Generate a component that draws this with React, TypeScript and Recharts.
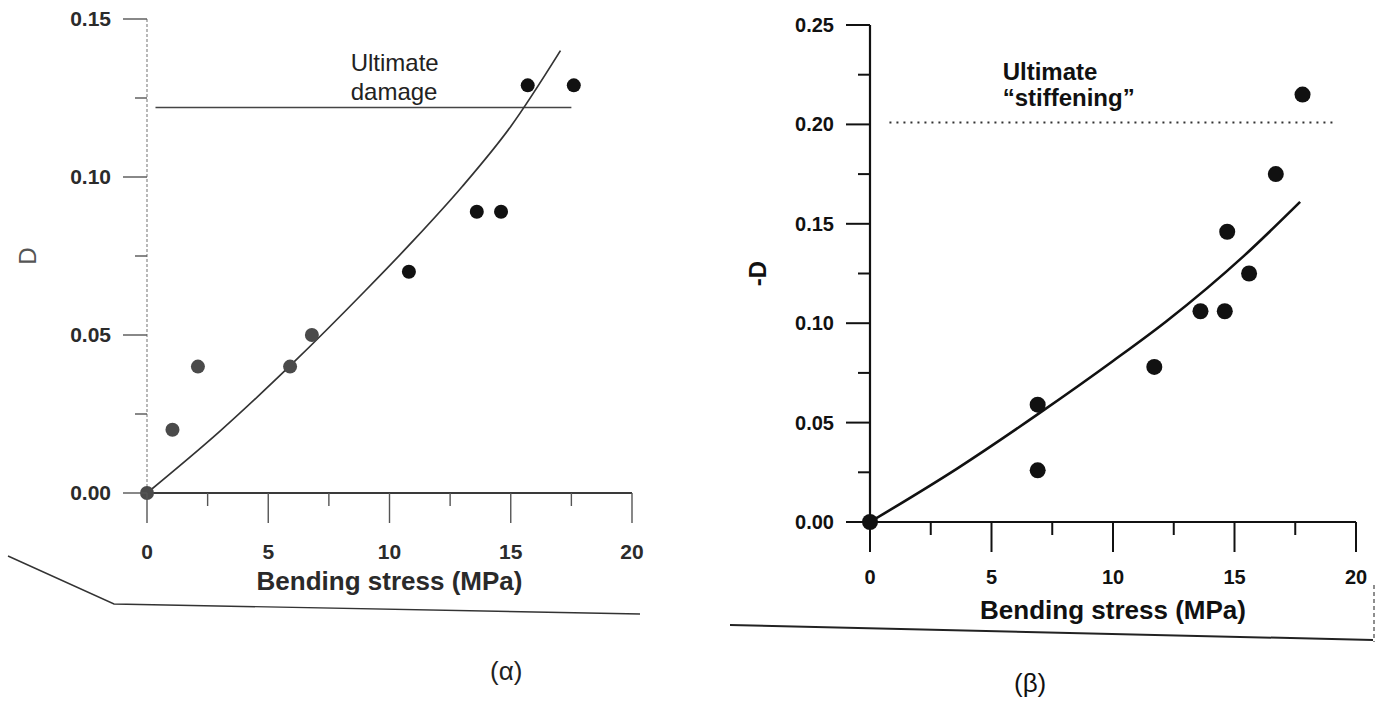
import React from 'react';
import { ComposedChart, XAxis, YAxis, Scatter, Line, ReferenceDot, Cell } from 'recharts';

const FONT = '"Liberation Sans", Arial, Helvetica, sans-serif';

// shared x axis (bending stress, MPa)
const stressTicks = [0, 2.5, 5, 7.5, 10, 12.5, 15, 17.5, 20];
const stressMajor = [0, 5, 10, 15, 20];

// (α) damage D
const damageStress = [0, 1.05, 2.1, 5.9, 6.8, 10.8, 13.6, 14.6, 15.7, 17.6];
const damageValue = [0, 0.02, 0.04, 0.04, 0.05, 0.07, 0.089, 0.089, 0.129, 0.129];
const damageFitStress = [0, 3, 6, 9, 11, 13, 15, 17.05];
const damageFitValue = [0, 0.0195, 0.041, 0.064, 0.08, 0.097, 0.116, 0.14];
const damageLimitStress = [0.35, 17.5];
const damageLimitValue = [0.122, 0.122];
const damageTicks = [0, 0.025, 0.05, 0.075, 0.1, 0.125, 0.15];
const damageMajor = [0, 0.05, 0.1, 0.15];

// (β) stiffening -D
const stiffStress = [0, 6.9, 6.9, 11.7, 13.6, 14.6, 14.7, 15.6, 16.7, 17.8];
const stiffValue = [0, 0.059, 0.026, 0.078, 0.106, 0.106, 0.146, 0.125, 0.175, 0.215];
const stiffFitStress = [0, 3.6, 7, 10, 12.2, 15.4, 17.7];
const stiffFitValue = [0, 0.027, 0.055, 0.081, 0.101, 0.134, 0.161];
const stiffLimitStress = [0.8, 19.1];
const stiffLimitValue = [0.201, 0.201];
const stiffTicks = [0, 0.025, 0.05, 0.075, 0.1, 0.125, 0.15, 0.175, 0.2, 0.225, 0.25];
const stiffMajor = [0, 0.05, 0.1, 0.15, 0.2, 0.25];

const zip = (xs: number[], ys: number[]) => xs.map((s, i) => ({ s, v: ys[i] }));

const damagePoints = zip(damageStress, damageValue);
const damageFit = zip(damageFitStress, damageFitValue);
const damageLimit = zip(damageLimitStress, damageLimitValue);
const stiffPoints = zip(stiffStress, stiffValue);
const stiffFit = zip(stiffFitStress, stiffFitValue);
const stiffLimit = zip(stiffLimitStress, stiffLimitValue);

type TickStyle = {
  color: string;
  text: string;
  width: number;
  size: number;
  weight: string;
  labelGap: number;
};

function StressTick(props: any, st: TickStyle) {
  const { x, y, payload } = props;
  const major = stressMajor.includes(payload.value);
  return (
    <g>
      <line x1={x} y1={y} x2={x} y2={y + (major ? 30 : 13)} stroke={st.color} strokeWidth={st.width} />
      {major && (
        <text x={x} y={y + st.labelGap} textAnchor="middle" dy="0.35em" fill={st.text}
          style={{ fontFamily: FONT, fontSize: st.size, fontWeight: st.weight }}>
          {payload.value}
        </text>
      )}
    </g>
  );
}

function ValueTick(props: any, majors: number[], st: TickStyle) {
  const { x, y, payload } = props;
  const major = majors.includes(payload.value);
  return (
    <g>
      <line x1={x - (major ? 24 : 12)} y1={y} x2={x} y2={y} stroke={st.color} strokeWidth={st.width} />
      {major && (
        <text x={x - 36} y={y} textAnchor="end" dy="0.35em" fill={st.text}
          style={{ fontFamily: FONT, fontSize: st.size, fontWeight: st.weight }}>
          {payload.value.toFixed(2)}
        </text>
      )}
    </g>
  );
}

const leftTick: TickStyle = { color: '#555', text: '#2b2b2b', width: 1.4, size: 21, weight: 'bold', labelGap: 59 };
const rightTick: TickStyle = { color: '#111', text: '#111', width: 2, size: 20, weight: 'bold', labelGap: 55 };

function DamageChart() {
  return (
    <ComposedChart width={660} height={600} margin={{ top: 19, right: 28, bottom: 0, left: 0 }}>
      <XAxis type="number" dataKey="s" domain={[0, 20]} ticks={stressTicks} interval={0}
        height={107} tickSize={0} tickMargin={0}
        axisLine={{ stroke: '#3a3a3a', strokeWidth: 1.8 }}
        tick={(p: any) => StressTick(p, leftTick)}
        label={{ value: 'Bending stress (MPa)', position: 'insideBottom', offset: 10,
          style: { fontFamily: FONT, fontSize: 26, fontWeight: 'bold', fill: '#2a2a2a' } }} />
      <YAxis type="number" dataKey="v" domain={[0, 0.15]} ticks={damageTicks} interval={0}
        width={147} tickSize={0} tickMargin={0}
        axisLine={{ stroke: '#8a8a8a', strokeWidth: 1.2, strokeDasharray: '3 2' }}
        tick={(p: any) => ValueTick(p, damageMajor, leftTick)}
        label={{ value: 'D', angle: -90, position: 'insideLeft', offset: 27,
          style: { fontFamily: FONT, fontSize: 24, fill: '#555', textAnchor: 'middle' } }} />
      <Line data={damageLimit} dataKey="v" type="linear" stroke="#444" strokeWidth={1.3}
        dot={false} activeDot={false} isAnimationActive={false} />
      <Line data={damageFit} dataKey="v" type="monotone" stroke="#333" strokeWidth={1.7}
        dot={false} activeDot={false} isAnimationActive={false} />
      <Scatter data={damagePoints} dataKey="v" isAnimationActive={false}
        shape={(p: any) => <circle cx={p.cx} cy={p.cy} r={7} fill={p.fill} />}>
        {damagePoints.map((_, i) => (
          <Cell key={`d-${i}`} fill={i < 5 ? '#4a4a4a' : '#111'} />
        ))}
      </Scatter>
      <ReferenceDot x={8.4} y={0.1361} r={0} ifOverflow="visible"
        label={{ value: 'Ultimate', position: 'right', offset: 0,
          style: { fontFamily: FONT, fontSize: 24, fill: '#222' } }} />
      <ReferenceDot x={8.4} y={0.1272} r={0} ifOverflow="visible"
        label={{ value: 'damage', position: 'right', offset: 0,
          style: { fontFamily: FONT, fontSize: 24, fill: '#222' } }} />
    </ComposedChart>
  );
}

function StiffeningChart() {
  return (
    <ComposedChart width={679} height={630} margin={{ top: 25, right: 23, bottom: 0, left: 0 }}>
      <XAxis type="number" dataKey="s" domain={[0, 20]} ticks={stressTicks} interval={0}
        height={108} tickSize={0} tickMargin={0}
        axisLine={{ stroke: '#111', strokeWidth: 2.2 }}
        tick={(p: any) => StressTick(p, rightTick)}
        label={{ value: 'Bending stress (MPa)', position: 'insideBottom', offset: 11,
          style: { fontFamily: FONT, fontSize: 26, fontWeight: 'bold', fill: '#111' } }} />
      <YAxis type="number" dataKey="v" domain={[0, 0.25]} ticks={stiffTicks} interval={0}
        width={170} tickSize={0} tickMargin={0}
        axisLine={{ stroke: '#111', strokeWidth: 2.2 }}
        tick={(p: any) => ValueTick(p, stiffMajor, rightTick)}
        label={{ value: '-D', angle: -90, position: 'insideLeft', offset: 57,
          style: { fontFamily: FONT, fontSize: 24, fontWeight: 'bold', fill: '#111', textAnchor: 'middle' } }} />
      <Line data={stiffLimit} dataKey="v" type="linear" stroke="#333" strokeWidth={2}
        strokeDasharray="2 5" dot={false} activeDot={false} isAnimationActive={false} />
      <Line data={stiffFit} dataKey="v" type="monotone" stroke="#111" strokeWidth={2.6}
        dot={false} activeDot={false} isAnimationActive={false} />
      <Scatter data={stiffPoints} dataKey="v" fill="#111" isAnimationActive={false}
        shape={(p: any) => <circle cx={p.cx} cy={p.cy} r={8} fill="#111" />} />
      <ReferenceDot x={5.46} y={0.2264} r={0} ifOverflow="visible"
        label={{ value: 'Ultimate', position: 'right', offset: 0,
          style: { fontFamily: FONT, fontSize: 24, fontWeight: 'bold', fill: '#111' } }} />
      <ReferenceDot x={5.46} y={0.2133} r={0} ifOverflow="visible"
        label={{ value: '\u201Cstiffening\u201D', position: 'right', offset: 0,
          style: { fontFamily: FONT, fontSize: 24, fontWeight: 'bold', fill: '#111' } }} />
    </ComposedChart>
  );
}

export default function App() {
  return (
    <div style={{ position: 'fixed', left: 0, top: 0, width: 1379, height: 724, background: '#fff', overflow: 'hidden' }}>
      <div style={{ position: 'absolute', left: 0, top: 0 }}>
        <DamageChart />
      </div>
      <div style={{ position: 'absolute', left: 700, top: 0 }}>
        <StiffeningChart />
      </div>
      {/* page edges from the scanned sheet */}
      <svg width={1379} height={724} style={{ position: 'absolute', left: 0, top: 0, pointerEvents: 'none' }}>
        <polyline points="8,556 114,604 640,614" fill="none" stroke="#333" strokeWidth={1.4} />
        <line x1={730} y1={625} x2={1373} y2={640} stroke="#222" strokeWidth={2} />
        <line x1={1374} y1={585} x2={1374} y2={642} stroke="#444" strokeWidth={1.2} strokeDasharray="4 3" />
      </svg>
      <div style={{ position: 'absolute', left: 490, top: 656, fontFamily: FONT, fontSize: 26, color: '#222' }}>(α)</div>
      <div style={{ position: 'absolute', left: 1014, top: 668, fontFamily: FONT, fontSize: 26, color: '#111' }}>(β)</div>
    </div>
  );
}
